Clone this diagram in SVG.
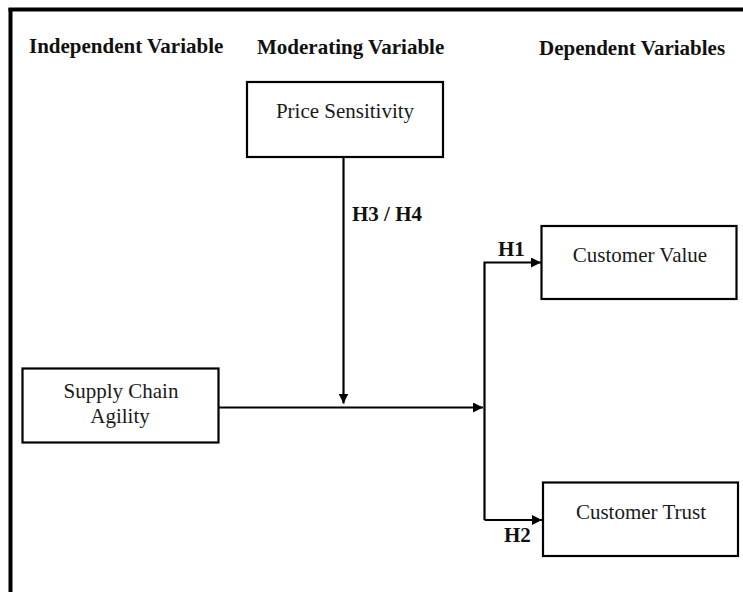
<svg xmlns="http://www.w3.org/2000/svg" width="743" height="592" viewBox="0 0 743 592">
<style>
.box{fill:#fff;stroke:#000;stroke-width:2.2}
.t{font-family:"Liberation Serif","Times New Roman",serif;font-size:21px;fill:#1a1a1a}
.h{font-family:"Liberation Serif","Times New Roman",serif;font-size:21px;font-weight:bold;fill:#111}
.ln{stroke:#000;stroke-width:2.2;fill:none}
</style>
<defs>
<marker id="ah" markerWidth="10" markerHeight="10" refX="10" refY="5" orient="auto" markerUnits="userSpaceOnUse">
<path d="M0,0 L10,5 L0,10 Z" fill="#000"/>
</marker>
</defs>
<rect width="743" height="592" fill="#fff"/>
<g id="frame">
<line x1="8.5" y1="9.5" x2="743" y2="9.5" stroke="#000" stroke-width="4"/>
<line x1="10.5" y1="8" x2="10.5" y2="592" stroke="#000" stroke-width="4"/>
</g>
<g id="headings">
<text class="h" x="29" y="53">Independent Variable</text>
<text class="h" x="257" y="54">Moderating Variable</text>
<text class="h" x="539" y="55">Dependent Variables</text>
</g>
<g id="connectors">
<line class="ln" x1="343.5" y1="157" x2="343.5" y2="403.5" marker-end="url(#ah)"/>
<line class="ln" x1="218" y1="407.5" x2="483" y2="407.5" marker-end="url(#ah)"/>
<polyline class="ln" points="484.5,520 484.5,262.5 541,262.5" marker-end="url(#ah)"/>
<line class="ln" x1="484.5" y1="520" x2="542" y2="520" marker-end="url(#ah)"/>
<text class="h" x="352" y="221">H3 / H4</text>
<text class="h" x="498" y="256">H1</text>
<text class="h" x="504" y="542">H2</text>
</g>
<g id="price-sensitivity">
<rect class="box" x="247" y="82" width="196" height="75"/>
<text class="t" x="345" y="118" text-anchor="middle">Price Sensitivity</text>
</g>
<g id="supply-chain-agility">
<rect class="box" x="22.5" y="368.5" width="196" height="74"/>
<text class="t" x="121" y="398" text-anchor="middle">Supply Chain</text>
<text class="t" x="120" y="423" text-anchor="middle">Agility</text>
</g>
<g id="customer-value">
<rect class="box" x="541.5" y="226" width="195" height="73"/>
<text class="t" x="640" y="262" text-anchor="middle">Customer Value</text>
</g>
<g id="customer-trust">
<rect class="box" x="543" y="482.5" width="195" height="73.5"/>
<text class="t" x="641" y="518.5" text-anchor="middle">Customer Trust</text>
</g>
</svg>
